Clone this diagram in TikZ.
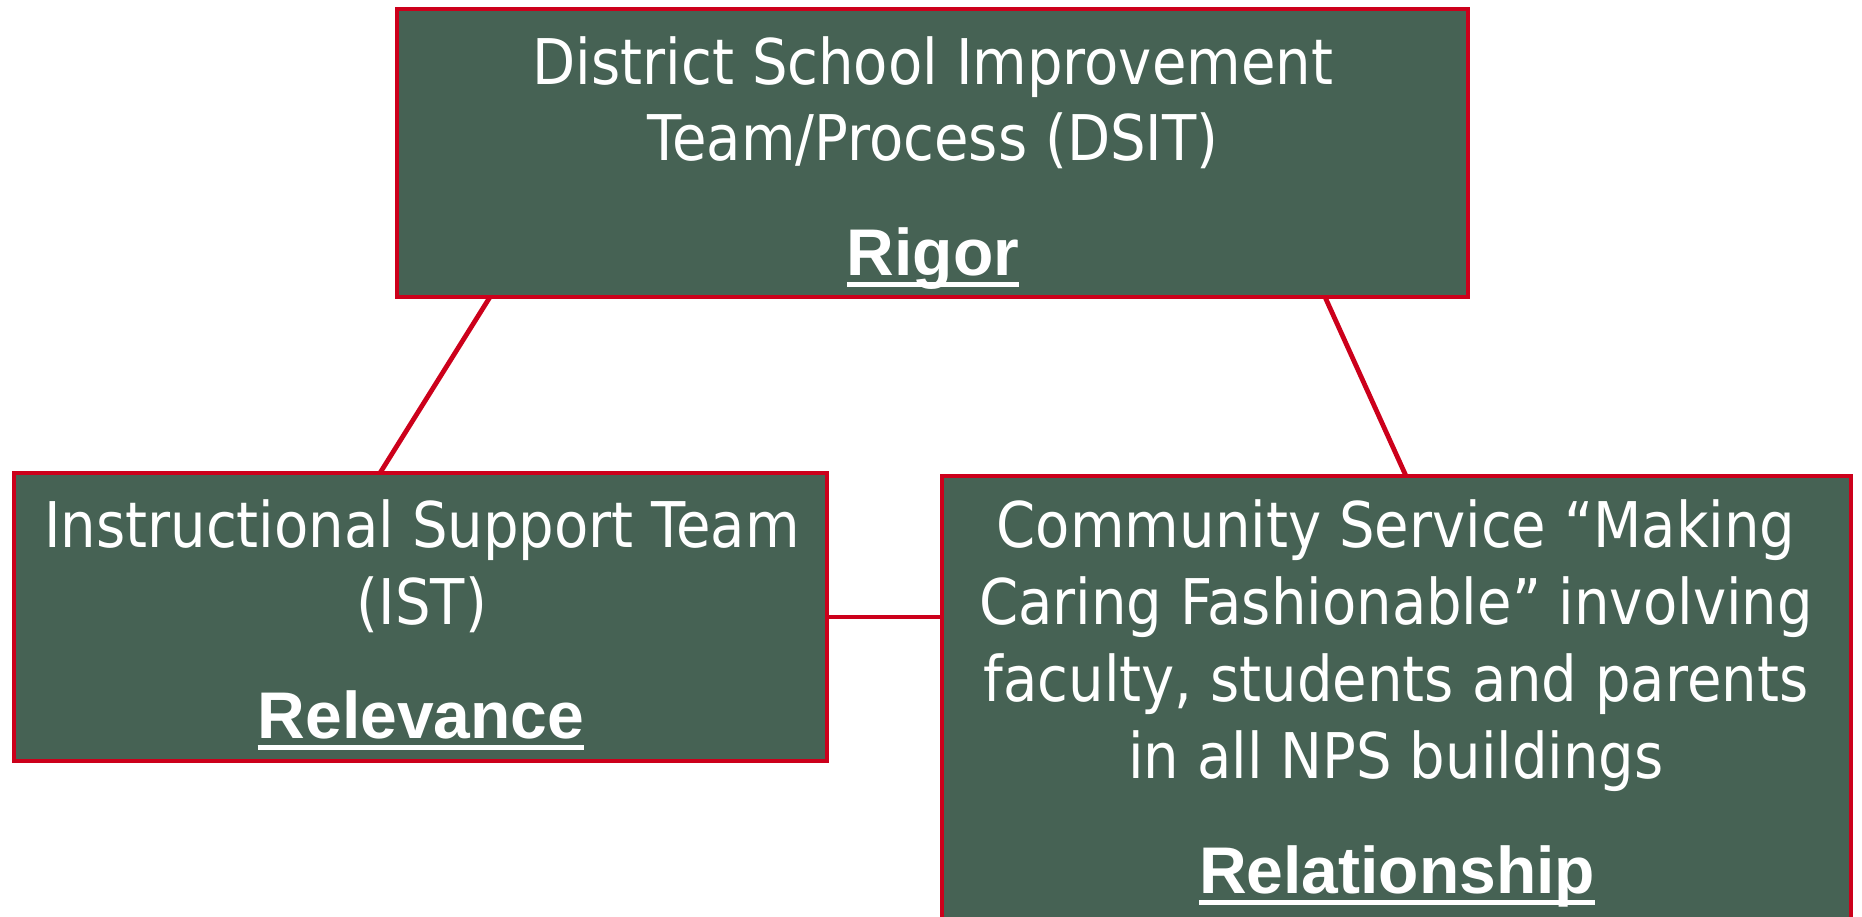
\documentclass[tikz,border=0pt]{standalone}
\usepackage{fontspec}
\usetikzlibrary{calc}
\newfontfamily\regfont[FakeStretch=0.89]{DejaVu Sans}
\newfontfamily\labfont{Liberation Sans}
\definecolor{boxfill}{RGB}{70,98,84}
\definecolor{boxline}{RGB}{204,0,27}
\newcommand\lblul[1]{\setbox0\hbox{#1}\rlap{\color{white}\rule[-11.5pt]{\wd0}{5pt}}\box0}
\begin{document}
\begin{tikzpicture}[x=1pt,y=-1pt,
  box/.style={draw=boxline, fill=boxfill, line width=4pt, inner sep=0pt, outer sep=0pt},
  txt/.style={anchor=base, text=white, inner sep=0pt, font=\regfont\fontsize{63}{76}\selectfont},
  lab/.style={anchor=base, text=white, inner sep=0pt, font=\labfont\bfseries\fontsize{66}{80}\selectfont},
  link/.style={draw=boxline, line width=4.8pt}]
\useasboundingbox (0,0) rectangle (1862,916);
\clip (0,0) rectangle (1862,916);
\fill[white] (0,0) rectangle (1862,916);
% boxes
\node[box, minimum width=1071pt, minimum height=288pt] (top) at (932.5,153) {};
\node[box, minimum width=813pt, minimum height=288pt] (left) at (420.5,617) {};
\node[box, minimum width=909pt, minimum height=484pt] (right) at (1396.5,718) {};
% connectors
\coordinate (tl) at ($(top.south west)+(93,0)$);
\coordinate (tr) at ($(top.south west)+(928,0)$);
\coordinate (lt) at ($(left.north west)+(366,0)$);
\coordinate (rt) at ($(right.north west)+(464,0)$);
\draw[link] (tl) -- (lt);
\draw[link] (tr) -- (rt);
\draw[link] (left.east) -- (left.east -| right.west);
% top text
\node[txt] (t1) at (933,84) {District School Improvement};
\node[txt] (t2) at (933,160) {Team/Process (DSIT)};
\node[lab] (t3) at (933,275) {\lblul{Rigor}};
% left text
\node[txt] (l1) at (422,547) {Instructional Support Team};
\node[txt] (l2) at (422,624) {(IST)};
\node[lab] (l3) at (421,738) {\lblul{Relevance}};
% right text
\node[txt] (r1) at (1396,547) {Community Service “Making};
\node[txt] (r2) at (1396,624) {Caring Fashionable” involving};
\node[txt] (r3) at (1396,701) {faculty, students and parents};
\node[txt] (r4) at (1396,778) {in all NPS buildings};
\node[lab] (r5) at (1397,893) {\lblul{Relationship}};
\end{tikzpicture}
\end{document}
